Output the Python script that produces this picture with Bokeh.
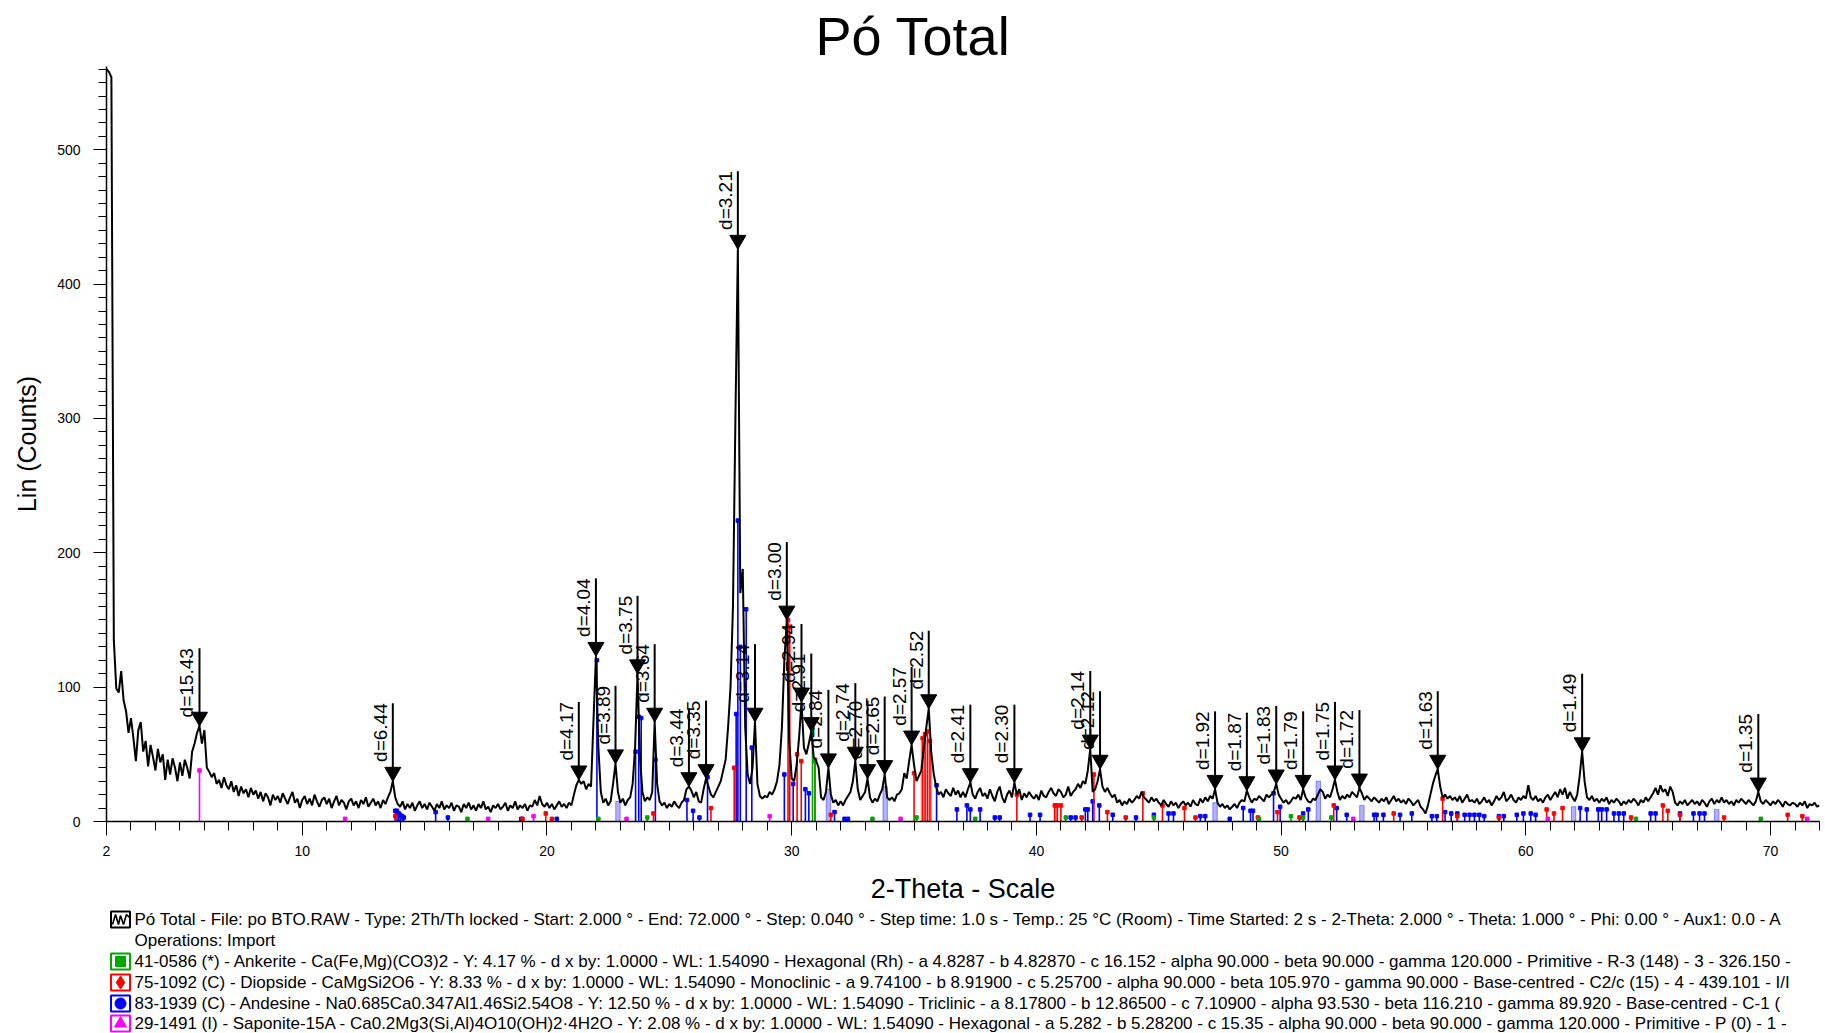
import numpy as np
from bokeh.plotting import figure
from bokeh.models import Range1d, FixedTicker, ColumnDataSource, Title
from bokeh.layouts import column
from bokeh.embed import file_html
from bokeh.resources import INLINE
from bokeh.core.properties import value

# ---------------- data ----------------
scan_start = 2.0      # Start: 2.000 deg
scan_step = 0.1       # read-off resolution
scan_counts = [
    560, 558, 554, 135, 99, 96, 112, 90, 82, 66,      # 2
    77, 62, 45, 68, 74, 52, 60, 41, 57, 48,           # 3
    38, 54, 44, 50, 31, 46, 35, 47, 40, 30,           # 4
    44, 34, 46, 40, 32, 52, 58, 66, 71, 58,           # 5
    68, 40, 37, 33, 36, 28, 31, 25, 33, 27,           # 6
    24, 30, 22, 27, 19, 26, 21, 24, 18, 25,           # 7
    20, 23, 17, 22, 15, 21, 18, 12, 20, 16,           # 8
    19, 14, 21, 17, 13, 18, 22, 14, 17, 10,           # 9
    16, 19, 13, 17, 12, 20, 15, 11, 16, 18,           # 10
    13, 17, 10, 15, 19, 12, 16, 14, 9, 15,            # 11
    17, 12, 15, 10, 16, 13, 18, 11, 14, 17,           # 12
    12, 15, 10, 16, 13, 18, 22, 30, 18, 13,           # 13
    11, 15, 9, 13, 10, 14, 8, 12, 15, 10,             # 14
    13, 9, 14, 11, 8, 13, 10, 15, 9, 12,              # 15
    10, 14, 8, 12, 11, 7, 13, 10, 14, 9,              # 16
    12, 8, 13, 10, 15, 9, 11, 7, 12, 10,              # 17
    13, 9, 11, 14, 8, 12, 10, 15, 9, 12,              # 18
    10, 13, 8, 12, 11, 16, 12, 19, 13, 11,            # 19
    14, 10, 13, 9, 12, 15, 11, 13, 10, 14,            # 20
    12, 20, 27, 31, 28, 30, 24, 28, 26, 75,           # 21
    123, 55, 22, 14, 17, 12, 15, 28, 43, 22,          # 22
    14, 17, 12, 16, 18, 28, 55, 110, 48, 22,          # 23
    15, 18, 16, 22, 74, 28, 15, 12, 14, 10,           # 24
    13, 11, 15, 12, 10, 14, 16, 24, 26, 23,           # 25
    18, 22, 15, 14, 24, 32, 26, 20, 18, 22,           # 26
    26, 30, 38, 46, 70, 100, 160, 300, 426, 170,      # 27
    188, 70, 35, 28, 40, 74, 28, 19, 17, 19,          # 28
    18, 22, 20, 24, 30, 42, 70, 120, 150, 60,         # 29
    32, 30, 42, 62, 89, 55, 50, 58, 67, 48,           # 30
    45, 40, 18, 16, 22, 40, 20, 14, 16, 12,           # 31
    15, 12, 16, 19, 22, 30, 45, 24, 16, 19,           # 32
    22, 32, 18, 14, 17, 15, 20, 24, 35, 18,           # 33
    16, 18, 15, 20, 21, 24, 36, 32, 45, 57,           # 34
    42, 30, 34, 38, 55, 70, 84, 52, 36, 26,           # 35
    20, 22, 18, 24, 21, 19, 25, 20, 23, 18,           # 36
    22, 18, 24, 29, 20, 17, 22, 25, 19, 21,           # 37
    17, 24, 19, 15, 22, 26, 18, 14, 20, 23,           # 38
    18, 29, 20, 24, 16, 21, 18, 22, 19, 17,           # 39
    20, 16, 23, 19, 18, 22, 25, 21, 19, 24,           # 40
    22, 18, 20, 26, 19, 22, 24, 28, 25, 30,           # 41
    28, 38, 54, 22, 24, 30, 39, 26, 22, 25,           # 42
    21, 18, 20, 14, 16, 12, 15, 13, 17, 14,           # 43
    16, 19, 17, 22, 18, 16, 14, 18, 15, 17,           # 44
    14, 12, 16, 13, 11, 15, 12, 14, 10, 13,           # 45
    15, 12, 14, 11, 16, 13, 12, 17, 14, 18,           # 46
    15, 19, 17, 24, 14, 11, 13, 10, 12, 9,            # 47
    11, 13, 10, 14, 16, 15, 23, 18, 14, 17,           # 48
    16, 19, 17, 15, 20, 18, 20, 22, 28, 20,           # 49
    17, 14, 16, 13, 15, 18, 17, 20, 16, 24,           # 50
    18, 15, 14, 17, 16, 20, 24, 22, 17, 20,           # 51
    18, 24, 31, 22, 16, 19, 17, 20, 18, 22,           # 52
    20, 18, 25, 21, 16, 19, 17, 15, 18, 16,           # 53
    14, 17, 15, 18, 13, 16, 19, 15, 17, 14,           # 54
    16, 13, 17, 15, 12, 14, 16, 11, 9, 6,             # 55
    12, 20, 28, 34, 39, 26, 18, 20, 17, 19,           # 56
    16, 18, 15, 19, 14, 17, 20, 15, 16, 14,           # 57
    17, 13, 15, 18, 14, 16, 12, 15, 19, 16,           # 58
    18, 22, 15, 17, 20, 16, 14, 18, 16, 19,           # 59
    17, 27, 18, 16, 19, 15, 17, 14, 18, 20,           # 60
    16, 19, 22, 18, 24, 20, 25, 17, 22, 18,           # 61
    15, 20, 34, 52, 30, 18, 16, 19, 15, 17,           # 62
    14, 17, 15, 18, 13, 16, 14, 17, 15, 12,           # 63
    15, 13, 16, 14, 17, 15, 12, 16, 14, 18,           # 64
    15, 18, 21, 25, 20, 27, 22, 24, 19, 26,           # 65
    22, 14, 12, 15, 13, 16, 12, 14, 16, 13,           # 66
    15, 12, 16, 14, 11, 15, 17, 13, 16, 14,           # 67
    18, 14, 16, 13, 15, 12, 16, 14, 17, 15,           # 68
    13, 16, 14, 12, 15, 22, 15, 13, 16, 14,           # 69
    12, 15, 13, 16, 14, 11, 15, 13, 12, 14,           # 70
    13, 11, 14, 12, 15, 10, 13, 12, 14, 11,           # 71
    12,                                               # 72
]
scan_2theta = [round(scan_start + i * scan_step, 2) for i in range(len(scan_counts))]

peak_2theta = [5.8, 13.7, 21.3, 22.0, 22.8, 23.7, 24.4, 25.8, 26.5, 27.8, 28.5,
               29.8, 30.4, 30.8, 31.5, 32.6, 33.1, 33.8, 34.9, 35.6, 37.3, 39.1,
               42.2, 42.6, 47.3, 48.6, 49.8, 50.9, 52.2, 53.2, 56.4, 62.3, 69.5]
peak_counts = [71, 30, 31, 123, 43, 110, 74, 26, 32, 426, 74,
               150, 89, 67, 40, 45, 32, 35, 57, 84, 29, 29,
               54, 39, 24, 23, 28, 24, 31, 25, 39, 52, 22]
peak_labels = ["d=15.43", "d=6.44", "d=4.17", "d=4.04", "d=3.89", "d=3.75", "d=3.64",
               "d=3.44", "d=3.35", "d=3.21", "d=3.14", "d=3.00", "d=2.94", "d=2.91",
               "d=2.84", "d=2.74", "d=2.70", "d=2.65", "d=2.57", "d=2.52", "d=2.41",
               "d=2.30", "d=2.14", "d=2.12", "d=1.92", "d=1.87", "d=1.83", "d=1.79",
               "d=1.75", "d=1.72", "d=1.63", "d=1.49", "d=1.35"]

ankerite_2theta = [16.75, 22.1, 24.1, 30.85, 30.95, 33.3, 35.1, 37.5, 41.2, 44.8,
                   49.1, 50.4, 50.9, 52.05, 64.5, 69.6]
ankerite_counts = [2, 2, 3, 70, 45, 2, 3, 2, 3, 3,
                   2, 4, 3, 3, 2, 2]

diopside_2theta = [13.8, 19.0, 19.95, 20.2, 24.35, 26.7, 27.65, 29.85, 29.92, 30.22,
                   30.39, 30.95, 31.6, 35.0, 35.35, 35.45, 35.55, 35.65, 39.2, 40.75,
                   40.85, 41.0, 41.85, 42.35, 42.9, 43.65, 44.35, 45.15, 46.05, 46.5,
                   49.05, 49.85, 50.75, 52.15, 54.6, 56.6, 57.2, 58.9, 60.85, 61.15,
                   61.5, 64.3, 65.6, 65.8, 66.3, 68.1, 70.7, 71.3]
diopside_counts = [4, 2, 6, 2, 6, 10, 40, 150, 145, 50,
                   45, 46, 5, 36, 62, 65, 67, 60, 20, 12,
                   12, 12, 3, 35, 7, 3, 21, 12, 10, 3,
                   3, 7, 3, 12, 6, 17, 4, 3, 9, 6,
                   10, 3, 12, 8, 5, 3, 5, 4]

andesine_2theta = [13.8, 13.87, 13.94, 14.0, 14.08, 14.15, 15.45, 15.95, 18.95, 20.4,
                   22.04, 23.62, 23.75, 23.85, 24.43, 25.72, 25.97, 26.23, 26.56, 27.73,
                   27.8, 27.9, 28.14, 28.37, 29.7, 30.06, 30.56, 30.7, 31.75, 32.16,
                   32.3, 35.92, 36.75, 37.16, 37.3, 37.7, 38.3, 38.5, 39.74, 40.15,
                   41.4, 41.6, 42.0, 42.1, 42.3, 42.57, 43.12, 44.07, 44.8, 45.4,
                   45.6, 46.7, 46.9, 47.9, 48.45, 48.75, 48.85, 49.69, 49.96, 50.9,
                   51.11, 52.27, 52.68, 53.8, 53.9, 54.18, 54.86, 55.34, 56.16, 56.36,
                   56.7, 56.95, 57.2, 57.5, 57.7, 57.9, 58.1, 58.3, 58.9, 59.1,
                   59.63, 59.9, 60.2, 60.4, 62.22, 62.49, 62.96, 63.1, 63.3, 63.6,
                   63.8, 64.0, 65.1, 65.3, 66.3, 66.85, 67.1, 67.3]
andesine_counts = [8, 8, 6, 5, 4, 3, 7, 3, 2, 2,
                   120, 52, 78, 77, 46, 16, 8, 3, 33, 80,
                   224, 130, 158, 55, 35, 28, 24, 21, 7, 2,
                   2, 27, 9, 12, 9, 9, 3, 3, 5, 5,
                   3, 3, 9, 9, 15, 12, 5, 3, 5, 6,
                   6, 4, 4, 2, 10, 8, 8, 21, 11, 6,
                   9, 10, 5, 5, 5, 5, 5, 6, 4, 4,
                   7, 6, 6, 5, 5, 5, 5, 4, 4, 4,
                   5, 6, 6, 5, 10, 9, 9, 9, 9, 6,
                   6, 6, 6, 6, 6, 6, 6, 6]

saponite_2theta = [5.8, 11.75, 17.6, 19.45, 23.25, 29.1, 34.45, 52.95, 60.9, 71.5]
saponite_counts = [38, 2, 2, 4, 2, 4, 2, 2, 2, 2]

andesine_band_2theta = [22.9, 31.5, 33.82, 47.3, 51.52, 53.3, 61.95, 67.8]
andesine_band_counts = [15, 24, 26, 14, 30, 12, 11, 9]
diopside_band_2theta = [35.5, 40.8]
diopside_band_counts = [60, 12]

legend_rows = [
    "Pó Total - File: po BTO.RAW - Type: 2Th/Th locked - Start: 2.000 ° - End: 72.000 ° - Step: 0.040 ° - Step time: 1.0 s - Temp.: 25 °C (Room) - Time Started: 2 s - 2-Theta: 2.000 ° - Theta: 1.000 ° - Phi: 0.00 ° - Aux1: 0.0 - A",
    "Operations: Import",
    "41-0586 (*) - Ankerite - Ca(Fe,Mg)(CO3)2 - Y: 4.17 % - d x by: 1.0000 - WL: 1.54090 - Hexagonal (Rh) - a 4.8287 - b 4.82870 - c 16.152 - alpha 90.000 - beta 90.000 - gamma 120.000 - Primitive - R-3 (148) - 3 - 326.150 -",
    "75-1092 (C) - Diopside - CaMgSi2O6 - Y: 8.33 % - d x by: 1.0000 - WL: 1.54090 - Monoclinic - a 9.74100 - b 8.91900 - c 5.25700 - alpha 90.000 - beta 105.970 - gamma 90.000 - Base-centred - C2/c (15) - 4 - 439.101 - I/I",
    "83-1939 (C) - Andesine - Na0.685Ca0.347Al1.46Si2.54O8 - Y: 12.50 % - d x by: 1.0000 - WL: 1.54090 - Triclinic - a 8.17800 - b 12.86500 - c 7.10900 - alpha 93.530 - beta 116.210 - gamma 89.920 - Base-centred - C-1 (",
    "29-1491 (I) - Saponite-15A - Ca0.2Mg3(Si,Al)4O10(OH)2·4H2O - Y: 2.08 % - d x by: 1.0000 - WL: 1.54090 - Hexagonal - a 5.282 - b 5.28200 - c 15.35 - alpha 90.000 - beta 90.000 - gamma 120.000 - Primitive - P (0) - 1 -",
]

# ---------------- styles ----------------
GREEN = "#00a800"
RED = "#ff0000"
BLUE = "#0000ff"
MAGENTA = "#ff00ff"
FONT = "Liberation Sans"

BORDER_L, BORDER_R = 106, 6
FRAME_W, FRAME_H = 1713, 755
Y_MAX = 562
px_per_count = FRAME_H / Y_MAX
ARROW_LEN = 58            # counts
TRI_SIZE = 16
tri_shift = (TRI_SIZE * 0.5 * np.sqrt(3) * 2 / 3) / px_per_count

p = figure(frame_width=FRAME_W, frame_height=FRAME_H,
           min_border_left=BORDER_L, min_border_right=BORDER_R, min_border_top=66,
           min_border_bottom=84,
           x_range=Range1d(2, 72), y_range=Range1d(0, Y_MAX),
           output_backend="svg", toolbar_location=None)
p.outline_line_color = None
p.xgrid.visible = False
p.ygrid.visible = False

p.title = Title(text="Pó Total", text_font=FONT, text_font_size="54px",
                text_font_style="normal", text_color="black", align="left",
                offset=709, standoff=2)

# axes
p.xaxis.ticker = FixedTicker(ticks=[2, 10, 20, 30, 40, 50, 60, 70], minor_ticks=list(range(2, 73)))
p.yaxis.ticker = FixedTicker(ticks=[0, 100, 200, 300, 400, 500], minor_ticks=list(range(0, 561, 10)))
for ax in (p.xaxis[0], p.yaxis[0]):
    ax.axis_line_color = "black"
    ax.axis_line_width = 1.5
    ax.major_tick_line_color = "black"
    ax.minor_tick_line_color = "black"
    ax.major_tick_in = 0
    ax.minor_tick_in = 0
    ax.major_label_text_font = FONT
    ax.major_label_text_font_size = "14px"
    ax.major_label_text_color = "black"
    ax.axis_label_text_font = FONT
    ax.axis_label_text_font_style = "normal"
    ax.axis_label_text_color = "black"
p.xaxis.major_tick_out = 14
p.xaxis.minor_tick_out = 9
p.xaxis.major_label_standoff = 10
p.xaxis.axis_label = "2-Theta - Scale"
p.xaxis.axis_label_text_font_size = "27px"
p.xaxis.axis_label_standoff = 15
p.yaxis.major_tick_out = 13
p.yaxis.minor_tick_out = 8
p.yaxis.major_label_standoff = 13
p.yaxis.axis_label = "Lin (Counts)"
p.yaxis.axis_label_text_font_size = "25px"
p.yaxis.axis_label_standoff = 13

# reference pattern bands
p.vbar(x=andesine_band_2theta, top=andesine_band_counts, bottom=0, width=0.18,
       fill_color=BLUE, fill_alpha=0.3, line_color=BLUE, line_alpha=0.4, line_width=1)
p.vbar(x=diopside_band_2theta, top=diopside_band_counts, bottom=0, width=[0.42, 0.15],
       fill_color=RED, fill_alpha=0.22, line_color=RED, line_alpha=0.4, line_width=1)

# stick patterns
for xs, hs, col in [(andesine_2theta, andesine_counts, BLUE),
                    (diopside_2theta, diopside_counts, RED),
                    (ankerite_2theta, ankerite_counts, GREEN),
                    (saponite_2theta, saponite_counts, MAGENTA)]:
    p.segment(x0=xs, y0=[0] * len(xs), x1=xs, y1=hs, line_color=col, line_width=1.6)
    p.scatter(x=xs, y=hs, marker="square", size=3.5, color=col)

# measured scan
p.line(scan_2theta, scan_counts, line_color="black", line_width=2)

# peak markers
src = ColumnDataSource(dict(
    x=peak_2theta,
    tip=peak_counts,
    top=[c + ARROW_LEN for c in peak_counts],
    tri=[c + tri_shift for c in peak_counts],
    label=peak_labels,
))
p.segment(x0="x", y0="tip", x1="x", y1="top", source=src, line_color="black", line_width=2)
p.scatter(x="x", y="tri", source=src, marker="inverted_triangle", size=TRI_SIZE,
          color="black")
p.text(x="x", y="top", text="label", source=src, angle=np.pi / 2,
       text_font=value(FONT), text_font_size="19px", text_color="black",
       text_align="right", text_baseline="bottom", x_offset=-2)

# ---------------- legend block (pixel space, aligned with the plot frame) ----------------
LEG_H = 127
q = figure(frame_width=FRAME_W, frame_height=LEG_H,
           min_border_left=BORDER_L, min_border_right=BORDER_R, min_border_top=0,
           min_border_bottom=0,
           x_range=Range1d(0, FRAME_W), y_range=Range1d(LEG_H, 0),
           x_axis_location=None, y_axis_location=None,
           output_backend="svg", toolbar_location=None)
q.outline_line_color = None
q.grid.visible = False

row_y = [13, 34, 55, 76, 97, 117]
icon_x = 14
text_x = 28
q.text(x=[text_x] * len(legend_rows), y=row_y, text=legend_rows,
       text_font=value(FONT), text_font_size="17px", text_color="black",
       text_align="left", text_baseline="middle")

icon_rows = [row_y[0], row_y[2], row_y[3], row_y[4], row_y[5]]
icon_cols = ["black", GREEN, RED, BLUE, MAGENTA]
q.rect(x=[icon_x] * 5, y=icon_rows, width=19, height=16, fill_color="white",
       line_color=icon_cols, line_width=2)
zig_dx = [-8, -5, -2, 0, 3, 6, 9]
zig_dy = [5, -5, 5, -4, 5, -5, -2]
q.line([icon_x + d for d in zig_dx], [row_y[0] + d for d in zig_dy], line_color="black",
       line_width=1.6)
q.scatter(x=[icon_x] * 4, y=icon_rows[1:], marker=["square", "diamond", "circle", "triangle"],
          size=[10, 13, 11, 12], color=icon_cols[1:])

layout = column(p, q, spacing=0)
open("out.html", "w").write(file_html(layout, INLINE))
